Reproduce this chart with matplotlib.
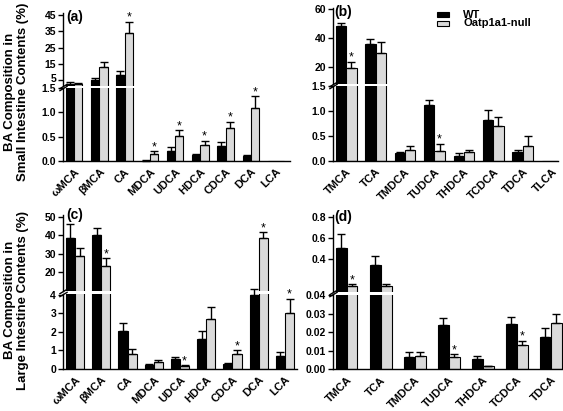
import matplotlib
matplotlib.use("Agg")
import matplotlib.pyplot as plt
from matplotlib.ticker import FixedLocator, FormatStrFormatter
from matplotlib.patches import Rectangle
import matplotlib.transforms as mtrans
import numpy as np

plt.rcParams['font.family'] = ['Liberation Sans', 'DejaVu Sans']
plt.rcParams['font.weight'] = 'bold'

# ---------------- data ----------------
cats_a = ['ωMCA', 'βMCA', 'CA', 'MDCA', 'UDCA', 'HDCA', 'CDCA', 'DCA', 'LCA']
wt_a = [2.9, 4.9, 8.0, 0.01, 0.20, 0.12, 0.30, 0.10, 0.0]
wt_a_err = [0.8, 1.7, 2.7, 0.005, 0.09, 0.03, 0.085, 0.03, 0.0]
ko_a = [2.8, 13.1, 33.8, 0.145, 0.52, 0.33, 0.67, 1.09, 0.0]
ko_a_err = [0.6, 3.1, 7.2, 0.06, 0.11, 0.09, 0.14, 0.24, 0.0]
sig_a = [0, 0, 1, 1, 1, 1, 1, 1, 0]

cats_b = ['TMCA', 'TCA', 'TMDCA', 'TUDCA', 'THDCA', 'TCDCA', 'TDCA', 'TLCA']
wt_b = [48.5, 36.0, 0.16, 1.12, 0.11, 0.82, 0.19, 0.0]
wt_b_err = [2.0, 3.5, 0.02, 0.11, 0.05, 0.21, 0.04, 0.0]
ko_b = [19.0, 29.5, 0.23, 0.21, 0.18, 0.70, 0.30, 0.0]
ko_b_err = [4.5, 8.0, 0.08, 0.14, 0.05, 0.18, 0.21, 0.0]
sig_b = [1, 0, 0, 1, 0, 0, 0, 0]

cats_c = ['ωMCA', 'βMCA', 'CA', 'MDCA', 'UDCA', 'HDCA', 'CDCA', 'DCA', 'LCA']
wt_c = [38.7, 40.1, 2.04, 0.20, 0.56, 1.60, 0.27, 4.0, 0.72]
wt_c_err = [7.2, 4.0, 0.43, 0.05, 0.09, 0.45, 0.05, 0.3, 0.20]
ko_c = [29.0, 23.6, 0.81, 0.38, 0.18, 2.72, 0.81, 38.7, 3.0]
ko_c_err = [4.3, 4.0, 0.27, 0.12, 0.04, 0.61, 0.22, 2.9, 0.8]
sig_c = [0, 1, 0, 0, 1, 0, 1, 1, 1]

cats_d = ['TMCA', 'TCA', 'TMDCA', 'TUDCA', 'THDCA', 'TCDCA', 'TDCA']
wt_d = [0.51, 0.347, 0.0068, 0.0238, 0.0055, 0.0246, 0.0175]
wt_d_err = [0.125, 0.083, 0.0027, 0.0039, 0.0018, 0.0034, 0.005]
ko_d = [0.145, 0.150, 0.0073, 0.0068, 0.0016, 0.0129, 0.025]
ko_d_err = [0.02, 0.02, 0.0022, 0.0012, 0.0004, 0.0025, 0.005]
sig_d = [1, 0, 0, 1, 0, 1, 0]

legend_labels = ['WT', 'Oatp1a1-null']
ylabel_top = ['BA Composition in', 'BA Composition in']
ylabel_bot = ['Small Intestine Contents (%)', 'Large Intestine Contents (%)']

# --------------- style ----------------
W, H = 563, 411
GRAY = '#dadada'
fig = plt.figure(figsize=(W / 100, H / 100), dpi=100)


def frect(x0, x1, ytop, ybot):
    return [x0 / W, 1 - ybot / H, (x1 - x0) / W, (ybot - ytop) / H]


def style_axis(ax, bottom_axis):
    for s in ['top', 'right']:
        ax.spines[s].set_visible(False)
    ax.spines['left'].set_linewidth(1.0)
    ax.spines['bottom'].set_linewidth(1.0)
    if not bottom_axis:
        ax.spines['bottom'].set_visible(False)
        ax.tick_params(axis='x', bottom=False, labelbottom=False)
    ax.tick_params(axis='y', direction='out', length=3.5, width=1.0,
                   labelsize=7.5, pad=1.5)
    ax.tick_params(axis='x', length=0)
    for t in ax.get_yticklabels():
        t.set_fontweight('bold')


shift = mtrans.ScaledTranslation(3 / 100, -1 / 100, fig.dpi_scale_trans)
lift = mtrans.ScaledTranslation(0, 2 / 100, fig.dpi_scale_trans)


def panel(xr, yb, yt, cats, wt, wte, ko, koe, sig, ylb, ylt, tb, tt, fb, ft,
          xlim, width, lift_first=False):
    axb = fig.add_axes(frect(xr[0], xr[1], yb[0], yb[1]))
    axt = fig.add_axes(frect(xr[0], xr[1], yt[0], yt[1]))
    x = np.arange(len(cats))
    for ax in (axb, axt):
        ax.bar(x - width / 2, wt, width, color='black', edgecolor='black',
               linewidth=0.8, zorder=2)
        ax.bar(x + width / 2, ko, width, color=GRAY, edgecolor='black',
               linewidth=0.8, zorder=2)
        ax.set_xlim(*xlim)
        ax.set_facecolor('none')
    axb.set_ylim(*ylb)
    axt.set_ylim(*ylt)
    axb.yaxis.set_major_locator(FixedLocator(tb))
    axt.yaxis.set_major_locator(FixedLocator(tt))
    axb.yaxis.set_major_formatter(FormatStrFormatter(fb))
    axt.yaxis.set_major_formatter(FormatStrFormatter(ft))
    axb.set_xticks(x)
    axb.set_xticklabels(cats, rotation=45, ha='right', rotation_mode='anchor',
                        fontsize=8, fontweight='bold')
    for t in axb.get_xticklabels():
        t.set_transform(t.get_transform() + shift)
    axb.tick_params(axis='x', pad=4)
    style_axis(axb, True)
    style_axis(axt, False)
    if lift_first:
        fig.canvas.draw()
        tl = axt.yaxis.get_major_ticks()[0]
        tl.label1.set_transform(tl.label1.get_transform() + lift)
    # error bars and asterisks
    for vals, errs, off in ((wt, wte, -width / 2), (ko, koe, width / 2)):
        for i, (v, e) in enumerate(zip(vals, errs)):
            if v <= 0:
                continue
            ax = axb if v <= ylb[1] else axt
            ax.errorbar([i + off], [v], yerr=[[0], [e]], fmt='none',
                        ecolor='black', elinewidth=1.0, capsize=2.6,
                        capthick=1.0, clip_on=False, zorder=3)
    for i, s in enumerate(sig):
        if s:
            top = ko[i] + koe[i]
            ax = axb if ko[i] <= ylb[1] else axt
            ax.annotate('*', xy=(i + width / 2, top), xytext=(0, -1.5),
                        textcoords='offset points', ha='center', va='bottom',
                        fontsize=9, fontweight='normal', annotation_clip=False)
    # break marks
    for ax, yy in ((axb, 1), (axt, 0)):
        ax.plot([0], [yy], transform=ax.transAxes, marker=[(-1, -0.6), (1, 0.6)],
                markersize=6, color='k', mec='k', mew=1.0, linestyle='none',
                clip_on=False)
    return axb, axt


# (a)
panel((63, 290), (88, 161), (13, 86), cats_a, wt_a, wt_a_err, ko_a, ko_a_err,
      sig_a, (0, 1.5), (1.4, 46.3), [0, 0.5, 1.0, 1.5], [5, 15, 25, 35, 45],
      '%.1f', '%d', (-0.44, 8.55), 0.33, lift_first=True)
# (b)
panel((333, 558), (86, 161), (8, 84), cats_b, wt_b, wt_b_err, ko_b, ko_b_err,
      sig_b, (0, 1.5), (7.9, 60.9), [0, 0.5, 1.0, 1.5], [20, 40, 60],
      '%.1f', '%d', (-0.45, 7.2), 0.35)
# (c)
panel((63, 297), (293.5, 369), (215, 291), cats_c, wt_c, wt_c_err, ko_c, ko_c_err,
      sig_c, (0, 4.08), (9.9, 50.9), [0, 1, 2, 3, 4], [20, 30, 40, 50],
      '%d', '%d', (-0.46, 8.46), 0.35)
# (d)
panel((333, 563), (294.5, 369.3), (215, 291.5), cats_d, wt_d, wt_d_err, ko_d, ko_d_err,
      sig_d, (0, 0.0403), (0.098, 0.816), [0, 0.01, 0.02, 0.03, 0.04],
      [0.4, 0.6, 0.8], '%.2f', '%.1f', (-0.40, 6.36), 0.32)

# panel letters
for lab, px, py in (('(a)', 66, 17), ('(b)', 334, 12), ('(c)', 66, 215), ('(d)', 334, 217)):
    fig.text(px / W, 1 - py / H, lab, fontsize=10, fontweight='bold',
             ha='left', va='center')

# y labels
for i, cy in enumerate((92, 300)):
    fig.text(10 / W, 1 - cy / H, ylabel_top[i], rotation=90, fontsize=9.5,
             fontweight='bold', ha='center', va='center')
    fig.text(23.5 / W, 1 - cy / H, ylabel_bot[i], rotation=90, fontsize=9.5,
             fontweight='bold', ha='center', va='center')

# legend
for j, (lab, col) in enumerate(zip(legend_labels, ['black', GRAY])):
    yc = 15 + 8.5 * j
    fig.patches.append(Rectangle((437 / W, 1 - (yc + 2.5) / H), 12 / W, 5 / H,
                                 transform=fig.transFigure, facecolor=col,
                                 edgecolor='black', linewidth=0.8))
    fig.text(463 / W, 1 - yc / H, lab, fontsize=8, fontweight='bold',
             ha='left', va='center')

fig.savefig('out.png', dpi=100, facecolor='white')
